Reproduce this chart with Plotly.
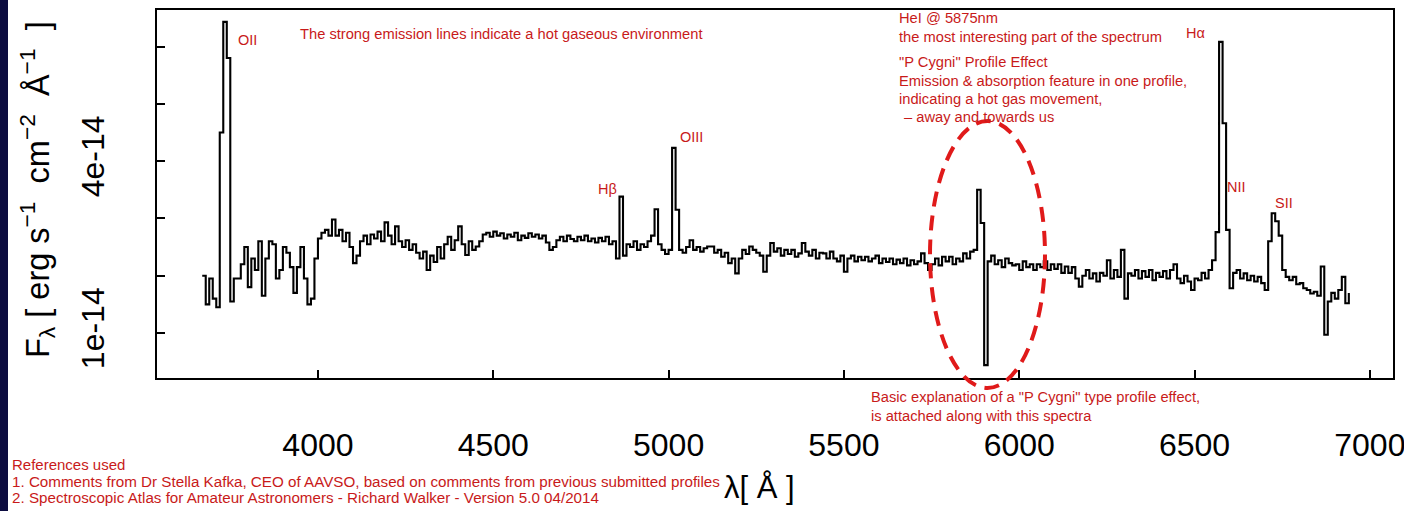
import plotly.graph_objects as go

# ---------------- data ----------------
WAVE_START = 3670   # Angstrom, first bin
WAVE_STEP = 10      # Angstrom per bin

# flux in units of 1e-14 erg s^-1 cm^-2 A^-1, one row per 100 A
flux_e14 = [
    2.0, 1.5, 1.95, 1.6, 1.45, 4.5, 6.43, 5.8, 1.55, 1.95,       # 3670-3760
    1.95, 2.2, 2.5, 1.8, 2.3, 2.1, 2.6, 1.65, 2.3, 2.6,          # 3770-3860
    2.55, 1.95, 2.1, 2.5, 2.4, 2.15, 1.7, 2.15, 2.5, 1.95,       # 3870-3960
    1.5, 1.6, 2.3, 2.65, 2.75, 2.8, 2.7, 2.98, 2.7, 2.8,         # 3970-4060
    2.6, 2.75, 2.5, 2.22, 2.35, 2.6, 2.7, 2.55, 2.72, 2.65,      # 4070-4160
    2.77, 2.6, 2.93, 2.7, 2.55, 2.86, 2.6, 2.5, 2.62, 2.45,      # 4170-4260
    2.55, 2.4, 2.3, 2.42, 2.1, 2.35, 2.24, 2.5, 2.3, 2.55,       # 4270-4360
    2.68, 2.45, 2.62, 2.86, 2.55, 2.36, 2.6, 2.45, 2.51, 2.6,    # 4370-4460
    2.72, 2.75, 2.68, 2.77, 2.7, 2.74, 2.65, 2.72, 2.68, 2.75,   # 4470-4560
    2.62, 2.7, 2.66, 2.74, 2.68, 2.72, 2.65, 2.7, 2.58, 2.45,    # 4570-4660
    2.5, 2.62, 2.68, 2.6, 2.7, 2.64, 2.6, 2.68, 2.62, 2.7,       # 4670-4760
    2.6, 2.65, 2.58, 2.66, 2.6, 2.68, 2.55, 2.6, 2.3, 3.38,      # 4770-4860
    2.35, 2.55, 2.5, 2.6, 2.45, 2.55, 2.5, 2.6, 2.7, 3.16,       # 4870-4960
    2.55, 2.45, 2.38, 2.45, 4.23, 3.15, 2.45, 2.4, 2.5, 2.62,    # 4970-5060
    2.45, 2.5, 2.42, 2.48, 2.51, 2.51, 2.4, 2.45, 2.33, 2.4,     # 5070-5160
    2.22, 2.3, 2.04, 2.3, 2.45, 2.38, 2.51, 2.45, 2.4, 2.35,     # 5170-5260
    2.07, 2.35, 2.57, 2.42, 2.48, 2.35, 2.45, 2.38, 2.45, 2.33,  # 5270-5360
    2.39, 2.57, 2.42, 2.35, 2.45, 2.3, 2.4, 2.39, 2.3, 2.42,     # 5370-5460
    2.3, 2.25, 2.35, 2.07, 2.3, 2.35, 2.25, 2.33, 2.27, 2.33,    # 5470-5560
    2.25, 2.3, 2.35, 2.22, 2.3, 2.24, 2.3, 2.2, 2.28, 2.22,      # 5570-5660
    2.3, 2.18, 2.27, 2.2, 2.25, 2.39, 2.22, 2.1, 2.2, 2.3,       # 5670-5760
    2.18, 2.33, 2.25, 2.33, 2.2, 2.3, 2.25, 2.39, 2.3, 2.42,     # 5770-5860
    2.45, 3.5, 2.92, 0.44, 2.25, 2.35, 2.2, 2.27, 2.15, 2.3,     # 5870-5960
    2.22, 2.18, 2.2, 2.1, 2.25, 2.15, 2.2, 2.1, 2.2, 2.15,       # 5970-6060
    2.25, 2.1, 2.2, 2.12, 2.2, 2.05, 2.16, 2.05, 2.15, 1.95,     # 6070-6160
    1.81, 2.0, 2.1, 1.95, 2.04, 1.9, 2.05, 2.0, 2.27, 1.95,      # 6170-6260
    2.1, 1.98, 2.45, 1.6, 2.04, 2.0, 2.1, 1.95, 2.08, 1.98,      # 6270-6360
    2.1, 1.92, 2.05, 1.98, 2.08, 1.95, 2.1, 2.2, 1.95, 1.87,     # 6370-6460
    2.0, 1.9, 1.75, 1.95, 1.92, 2.05, 1.95, 2.1, 2.27, 2.76,     # 6470-6560
    6.08, 4.66, 2.8, 1.78, 2.05, 2.1, 1.95, 2.04, 1.92, 2.0,     # 6570-6660
    1.9, 1.98, 1.87, 1.75, 2.6, 3.09, 2.95, 2.7, 2.1, 1.98,      # 6670-6760
    1.92, 1.98, 1.85, 1.87, 1.78, 1.75, 1.69, 1.72, 1.65, 2.16,  # 6770-6860
    0.97, 1.55, 1.7, 1.6, 1.75, 1.98, 1.52, 1.7,                 # 6870-6940
]

x_tick_values = [4000, 4500, 5000, 5500, 6000, 6500, 7000]
y_label_values_e14 = [1, 4]
y_label_text = ["1e-14", "4e-14"]
y_minor_values_e14 = [2, 3, 5, 6]

line_labels = ["OII", "Hβ", "OIII", "Hα", "NII", "SII"]

wavelength = [WAVE_START + WAVE_STEP * i for i in range(len(flux_e14))]
flux = [v * 1e-14 for v in flux_e14]

# ---------------- layout geometry ----------------
W, H = 1404, 511
ML, MR, MT, MB = 157, 11, 10, 133
PW, PH = W - ML - MR, H - MT - MB


def px(x):
    return (x - ML) / PW


def py(y):
    return (H - MB - y) / PH


FONT = "Liberation Sans, Arial, Helvetica, sans-serif"
RED = "#c81a1a"

fig = go.Figure()
fig.add_trace(go.Scatter(
    x=wavelength, y=flux, mode="lines",
    line=dict(color="black", width=2.1, shape="hv"),
    showlegend=False, hoverinfo="skip",
))

fig.update_layout(
    width=W, height=H,
    margin=dict(l=ML, r=MR, t=MT, b=MB, pad=0, autoexpand=False),
    paper_bgcolor="white", plot_bgcolor="white",
    font=dict(family=FONT, color="black"),
    xaxis=dict(
        range=[3541, 7066], tickvals=x_tick_values,
        ticktext=[str(v) for v in x_tick_values],
        ticks="inside", ticklen=8, tickwidth=1.5, tickcolor="black",
        showline=True, linewidth=2, linecolor="black", mirror=True,
        showgrid=False, zeroline=False, automargin=False,
        tickfont=dict(size=32, family=FONT, color="black"),
        ticklabelstandoff=38, ticklabeloverflow="allow",
    ),
    yaxis=dict(
        range=[0.2147e-14, 6.637e-14],
        tickvals=[v * 1e-14 for v in y_label_values_e14],
        ticktext=y_label_text, tickangle=-90,
        ticks="inside", ticklen=8, tickwidth=1.5, tickcolor="black",
        minor=dict(tickvals=[v * 1e-14 for v in y_minor_values_e14],
                   ticks="inside", ticklen=8, tickwidth=1.5,
                   tickcolor="black", showgrid=False),
        showline=True, linewidth=2, linecolor="black", mirror=True,
        showgrid=False, zeroline=False, automargin=False,
        tickfont=dict(size=32, family=FONT, color="black"),
        ticklabelstandoff=38,
    ),
)

ann = []


def add_text(text, x, y, size=14.7, color=RED, xanchor="left", angle=0):
    ann.append(dict(
        text=text, x=px(x), y=py(y), xref="paper", yref="paper",
        xanchor=xanchor, yanchor="middle", showarrow=False,
        textangle=angle, font=dict(family=FONT, size=size, color=color),
    ))


# emission line labels
add_text(line_labels[0], 236, 40, size=14.5)
add_text(line_labels[1], 596, 189, size=14.5)
add_text(line_labels[2], 678, 137, size=14.5)
add_text(line_labels[3], 1184, 33, size=14.5)
add_text(line_labels[4], 1225, 187, size=14.5)
add_text(line_labels[5], 1273, 203, size=14.5)

add_text("The strong emission lines indicate a hot gaseous environment", 298, 34)
add_text("HeI @ 5875nm", 897, 18)
add_text("the most interesting part of the spectrum", 897, 37)
add_text("\"P Cygni\" Profile Effect", 897, 62)
add_text("Emission &amp; absorption feature in one profile,", 897, 81)
add_text("indicating a hot gas movement,", 897, 99)
add_text("– away and towards us", 902, 117)
add_text("Basic explanation of a \"P Cygni\" type profile effect,", 869, 397)
add_text("is attached along with this spectra", 869, 416)

add_text("References used", 10, 465, size=15)
add_text("1. Comments from Dr Stella Kafka, CEO of AAVSO, based on comments from previous submitted profiles",
         10, 481, size=15.2)
add_text("2. Spectroscopic Atlas for Amateur Astronomers - Richard Walker - Version 5.0 04/2014",
         10, 497, size=15.2)

# axis titles
add_text("λ[ Å ]", 759, 488, size=31, color="black", xanchor="center")
add_text("F<sub>λ</sub> [ erg s<sup>−1</sup>  cm<sup>−2</sup>  Å<sup>−1</sup>  ]",
         37, 190, size=32.5, color="black", xanchor="center", angle=-90)

fig.update_layout(annotations=ann)

# dashed ellipse around the P Cygni feature, and the dark frame strip
fig.add_shape(type="circle", xref="paper", yref="paper",
              x0=px(930), x1=px(1045), y0=py(388), y1=py(121),
              line=dict(color="#e01a1a", width=4, dash="15px,9px"))
fig.add_shape(type="rect", xref="paper", yref="paper",
              x0=px(0), x1=px(8), y0=py(H), y1=py(0),
              line=dict(width=0), fillcolor="#0c0c40", layer="above")

fig.write_html("out.html")
